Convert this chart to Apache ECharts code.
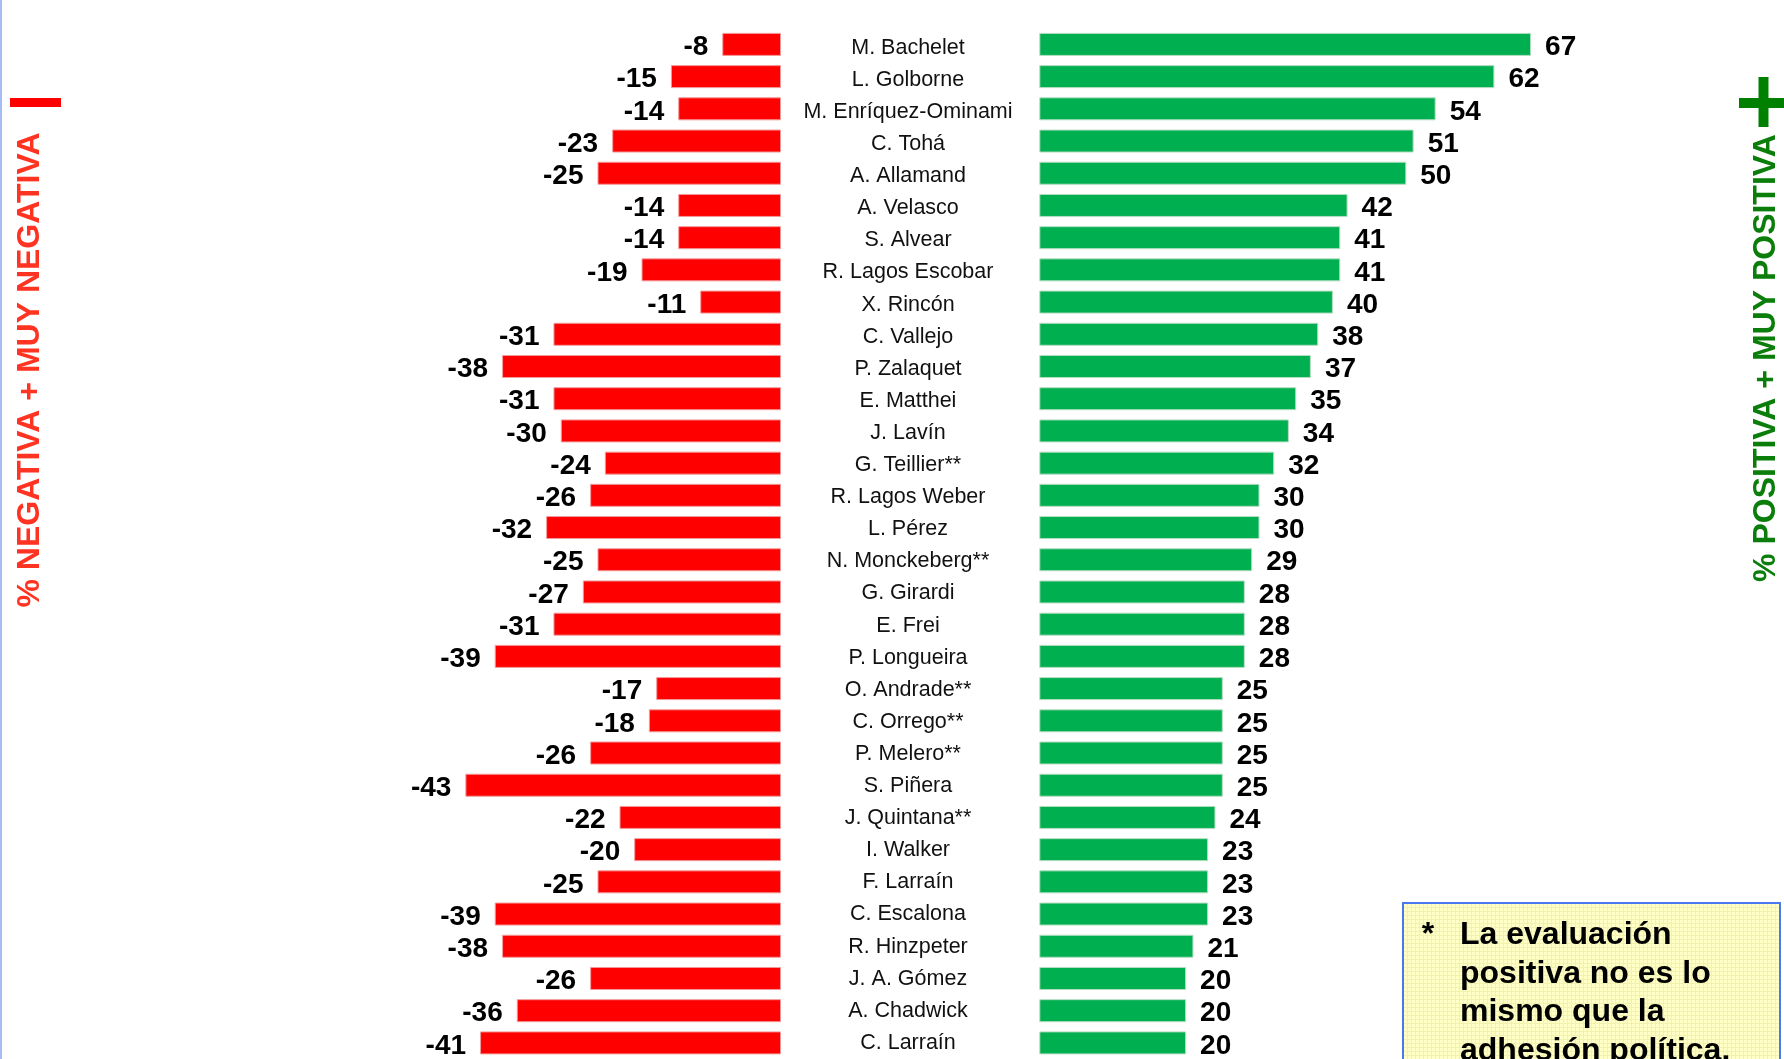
<!DOCTYPE html>
<html>
<head>
<meta charset="utf-8">
<title>Evaluación de personajes políticos</title>
<script src="https://cdn.jsdelivr.net/npm/echarts/dist/echarts.min.js"></script>
<style>
  html, body { margin: 0; padding: 0; background: #ffffff; }
  #chart { width: 1784px; height: 1059px; }
</style>
</head>
<body>
<div id="chart"></div>
<script>
// Personajes evaluados, de mayor a menor evaluación positiva
const politicians = [
  'M. Bachelet', 'L. Golborne', 'M. Enríquez-Ominami', 'C. Tohá', 'A. Allamand',
  'A. Velasco', 'S. Alvear', 'R. Lagos Escobar', 'X. Rincón', 'C. Vallejo',
  'P. Zalaquet', 'E. Matthei', 'J. Lavín', 'G. Teillier**', 'R. Lagos Weber',
  'L. Pérez', 'N. Monckeberg**', 'G. Girardi', 'E. Frei', 'P. Longueira',
  'O. Andrade**', 'C. Orrego**', 'P. Melero**', 'S. Piñera', 'J. Quintana**',
  'I. Walker', 'F. Larraín', 'C. Escalona', 'R. Hinzpeter', 'J. A. Gómez',
  'A. Chadwick', 'C. Larraín'
];

// % negativa + muy negativa
const negativeShare = [
  -8, -15, -14, -23, -25, -14, -14, -19, -11, -31,
  -38, -31, -30, -24, -26, -32, -25, -27, -31, -39,
  -17, -18, -26, -43, -22, -20, -25, -39, -38, -26,
  -36, -41
];

// % positiva + muy positiva
const positiveShare = [
  67, 62, 54, 51, 50, 42, 41, 41, 40, 38,
  37, 35, 34, 32, 30, 30, 29, 28, 28, 28,
  25, 25, 25, 25, 24, 23, 23, 23, 21, 20,
  20, 20
];

const negativeTitle = '% NEGATIVA + MUY NEGATIVA';
const positiveTitle = '% POSITIVA + MUY POSITIVA';
const noteLines = ['La evaluación', 'positiva no es lo', 'mismo que la', 'adhesión política.'];

const FONT = '"Liberation Sans", Arial, Helvetica, sans-serif';

// Both halves share the same pixels-per-point scale
const PX = 7.34;
const NEG_MIN = -60, POS_MAX = 80;
const NEG_RIGHT = 781, POS_LEFT = 1039.3;
const ROW_TOP = 28.3, ROW_H = 32.6;
const NAME_DROP = 3.5;          // names sit a touch below the bar centre line
const NAME_CENTER_X = 908;
const plotHeight = ROW_H * politicians.length;

// light yellow hatch used as the footnote background
function makeNotePattern() {
  const c = document.createElement('canvas');
  c.width = 4; c.height = 4;
  const g = c.getContext('2d');
  g.fillStyle = '#FFFFC6';
  g.fillRect(0, 0, 4, 4);
  g.fillStyle = '#F1F1B0';
  g.fillRect(0, 3, 4, 1);
  g.fillRect(3, 0, 1, 4);
  return c;
}

const chart = echarts.init(document.getElementById('chart'), null, { renderer: 'canvas' });

const valueLabel = {
  show: true,
  fontFamily: FONT,
  fontWeight: 'bold',
  fontSize: 28,
  color: '#000000',
  distance: 14,
  offset: [0, 3]
};

const hiddenValueAxis = {
  type: 'value',
  axisLine: { show: false },
  axisTick: { show: false },
  axisLabel: { show: false },
  splitLine: { show: false }
};

const hiddenCategoryAxis = {
  type: 'category',
  data: politicians,
  inverse: true,
  axisLine: { show: false },
  axisTick: { show: false },
  axisLabel: { show: false },
  splitLine: { show: false }
};

chart.setOption({
  backgroundColor: '#ffffff',
  animation: false,
  grid: [
    { left: NEG_RIGHT + NEG_MIN * PX, top: ROW_TOP, width: -NEG_MIN * PX, height: plotHeight },
    { left: POS_LEFT, top: ROW_TOP, width: POS_MAX * PX, height: plotHeight },
    // column of names between the two halves
    { left: NAME_CENTER_X, top: ROW_TOP + NAME_DROP, width: 10, height: plotHeight }
  ],
  xAxis: [
    Object.assign({ gridIndex: 0, min: NEG_MIN, max: 0 }, hiddenValueAxis),
    Object.assign({ gridIndex: 1, min: 0, max: POS_MAX }, hiddenValueAxis),
    Object.assign({ gridIndex: 2, min: 0, max: 1 }, hiddenValueAxis)
  ],
  yAxis: [
    Object.assign({ gridIndex: 0 }, hiddenCategoryAxis),
    Object.assign({ gridIndex: 1 }, hiddenCategoryAxis),
    Object.assign({}, hiddenCategoryAxis, {
      gridIndex: 2,
      position: 'left',
      axisLabel: {
        show: true,
        interval: 0,
        align: 'center',
        margin: 0,
        fontFamily: FONT,
        fontSize: 21.5,
        color: '#111111'
      }
    })
  ],
  series: [
    {
      name: negativeTitle,
      type: 'bar',
      xAxisIndex: 0,
      yAxisIndex: 0,
      data: negativeShare,
      barWidth: 23,
      itemStyle: { color: '#FF0000', borderColor: '#F29A9A', borderWidth: 1 },
      label: Object.assign({ position: 'left' }, valueLabel)
    },
    {
      name: positiveTitle,
      type: 'bar',
      xAxisIndex: 1,
      yAxisIndex: 1,
      data: positiveShare,
      barWidth: 23,
      itemStyle: { color: '#00B050', borderColor: '#B5DDC2', borderWidth: 1 },
      label: Object.assign({ position: 'right' }, valueLabel)
    }
  ],
  graphic: [
    // thin frame line on the left edge
    { type: 'rect', left: 0, top: 0, shape: { width: 2, height: 1059 }, style: { fill: '#A8BCF4' }, silent: true },
    // minus sign and vertical title for the negative side
    { type: 'rect', shape: { x: 10, y: 98, width: 51, height: 9 }, style: { fill: '#FF0000' }, silent: true },
    {
      type: 'text', x: 30, y: 370, rotation: Math.PI / 2, silent: true,
      style: {
        text: negativeTitle, fill: '#FF3322', font: 'bold 32px ' + FONT,
        align: 'center', verticalAlign: 'middle'
      }
    },
    // plus sign and vertical title for the positive side
    { type: 'rect', shape: { x: 1739, y: 98, width: 50, height: 10 }, style: { fill: '#008000' }, silent: true },
    { type: 'rect', shape: { x: 1758.5, y: 77, width: 10, height: 50 }, style: { fill: '#008000' }, silent: true },
    {
      type: 'text', x: 1766, y: 358, rotation: Math.PI / 2, silent: true,
      style: {
        text: positiveTitle, fill: '#0A7D0A', font: 'bold 32px ' + FONT,
        align: 'center', verticalAlign: 'middle'
      }
    },
    // footnote box
    {
      type: 'rect', silent: true,
      shape: { x: 1403, y: 903, width: 377, height: 200 },
      style: {
        fill: { type: 'pattern', image: makeNotePattern(), repeat: 'repeat' },
        stroke: '#4A78F2', lineWidth: 2
      }
    },
    {
      type: 'text', x: 1428, y: 916, silent: true,
      style: { text: '*', fill: '#000000', font: 'bold 32px ' + FONT, align: 'center', verticalAlign: 'top', lineHeight: 38.5 }
    },
    {
      type: 'text', x: 1460, y: 916, silent: true,
      style: {
        text: noteLines.join('\n'), fill: '#000000', font: 'bold 32px ' + FONT,
        align: 'left', verticalAlign: 'top', lineHeight: 38.5
      }
    }
  ]
});
</script>
</body>
</html>
